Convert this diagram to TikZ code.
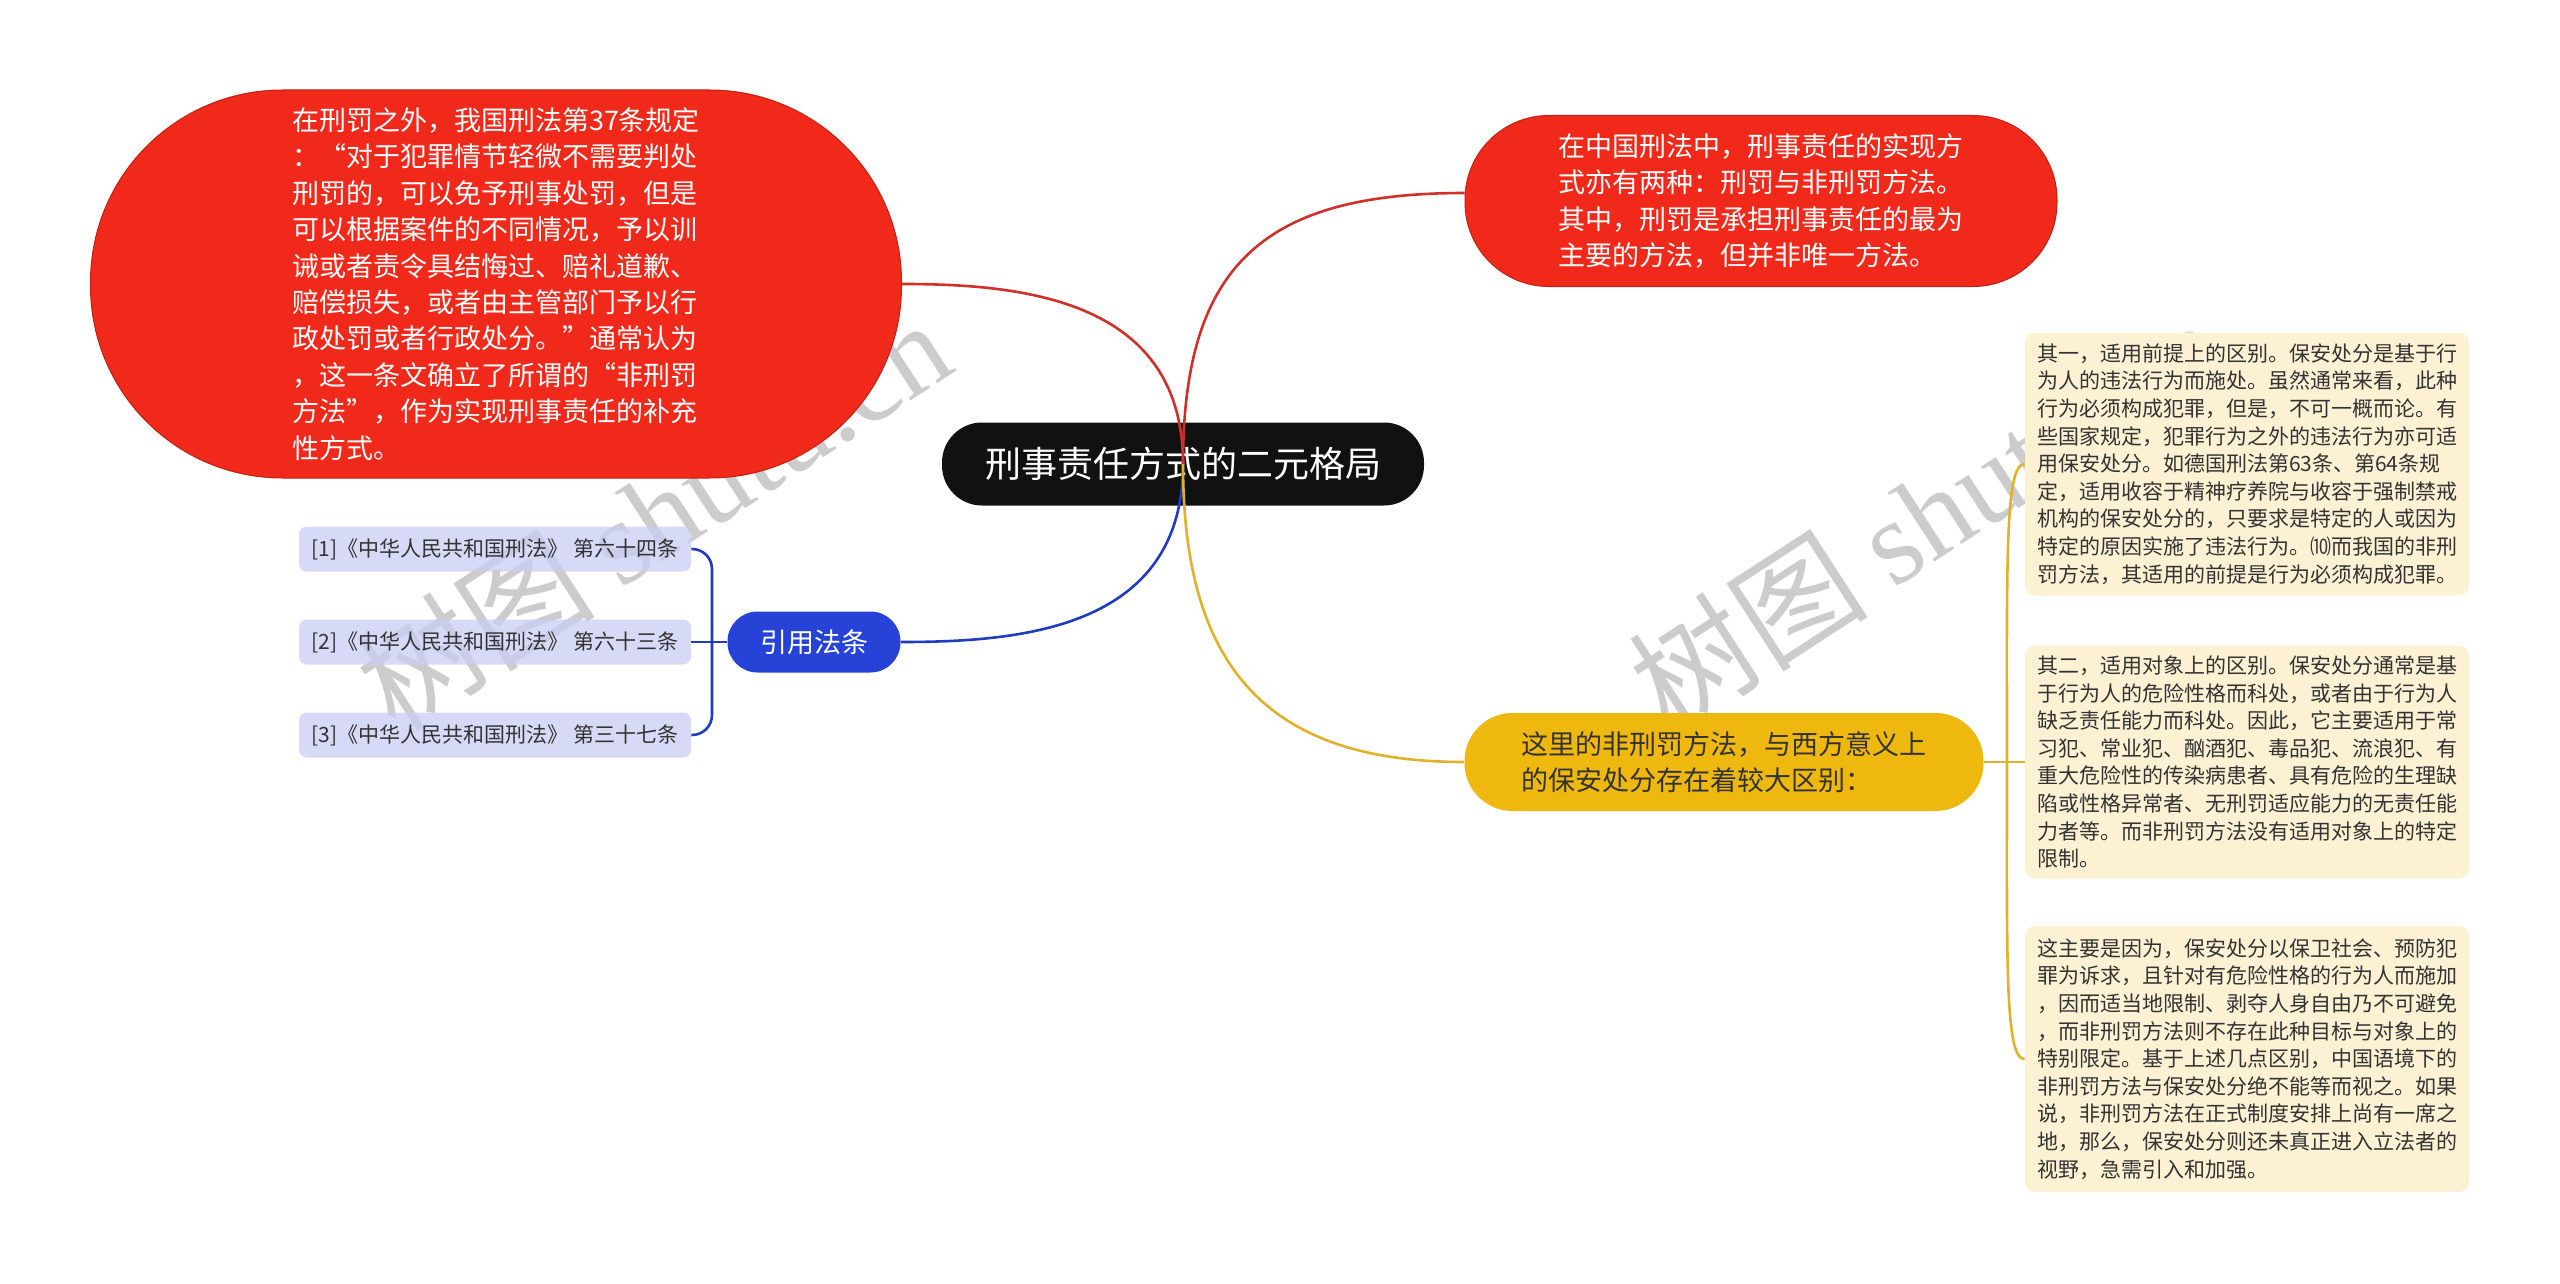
\documentclass[tikz,border=0pt]{standalone}
\usepackage{fontspec}
\setmainfont{Noto Sans CJK SC}
\newfontfamily\wmfont{Liberation Serif}
\usepackage{tikz}

\definecolor{mapred}{HTML}{F0291B}
\definecolor{mapredline}{HTML}{D0302A}
\definecolor{mapblue}{HTML}{2742D6}
\definecolor{mapblueline}{HTML}{1F3CC0}
\definecolor{mapyellow}{HTML}{EEB80E}
\definecolor{mapyellowline}{HTML}{E2B12C}
\definecolor{lavender}{HTML}{CACEF3}
\definecolor{cream}{HTML}{FCF1D3}
\definecolor{rootblack}{HTML}{111111}
\definecolor{inktext}{HTML}{333333}

\begin{document}
\begin{tikzpicture}[x=0.5pt, y=-0.5pt,
    rootnode/.style={fill=rootblack, text=white, rounded corners=20pt, minimum width=241pt, minimum height=41.5pt, inner sep=0pt, font=\fontsize{18}{22}\selectfont},
    rednote/.style={fill=mapred, draw=mapred!80!black, line width=0.5pt, text=white, align=left, inner sep=0pt, font=\fontsize{13.5}{18.2}\selectfont},
    refhub/.style={fill=mapblue, text=white, rounded corners=15pt, minimum width=86.5pt, minimum height=30.5pt, inner sep=0pt, font=\fontsize{13.5}{16}\selectfont},
    refleaf/.style={fill=lavender, fill opacity=0.75, text opacity=1, text=inktext, rounded corners=4pt, minimum width=196pt, minimum height=22.5pt, inner sep=0pt, font=\fontsize{10.5}{13}\selectfont},
    ambernode/.style={fill=mapyellow, text=inktext, rounded corners=24pt, minimum width=259.5pt, minimum height=49pt, align=left, inner sep=0pt, font=\fontsize{13.5}{18.2}\selectfont},
    ambernote/.style={fill=cream, text=inktext, rounded corners=5pt, minimum width=222pt, align=left, inner sep=0pt, font=\fontsize{10.5}{13.8}\selectfont},
    redlink/.style={draw=mapredline, line width=1.3pt},
    bluelink/.style={draw=mapblueline, line width=1.3pt},
    amberlink/.style={draw=mapyellowline, line width=1.3pt},
    watermark/.style={text=black!20, rotate=33, font=\fontsize{60}{60}\selectfont}
]
    % canvas
    \fill[white] (0,0) rectangle (2560,1284);
    \useasboundingbox (0,0) rectangle (2560,1284);

    % watermarks
    \node[watermark] (wm1) at (653,514) {树图 {\wmfont shutu.cn}};
    \node[watermark] (wm2) at (1926,514) {树图 {\wmfont shutu.cn}};

    % root
    \node[rootnode] (root) at (1183,464) {刑事责任方式的二元格局};

    % left red note
    \node[rednote, rounded corners=96pt, minimum width=405.5pt, minimum height=194pt] (penalty) at (496,284)
        {在刑罚之外，我国刑法第37条规定\\：“对于犯罪情节轻微不需要判处\\刑罚的，可以免予刑事处罚，但是\\可以根据案件的不同情况，予以训\\诫或者责令具结悔过、赔礼道歉、\\赔偿损失，或者由主管部门予以行\\政处罚或者行政处分。”通常认为\\，这一条文确立了所谓的“非刑罚\\方法”，作为实现刑事责任的补充\\性方式。};

    % top right red note
    \node[rednote, rounded corners=42pt, minimum width=296pt, minimum height=85.5pt] (dual) at (1761,201)
        {在中国刑法中，刑事责任的实现方\\式亦有两种：刑罚与非刑罚方法。\\其中，刑罚是承担刑事责任的最为\\主要的方法，但并非唯一方法。};

    % law references
    \node[refhub] (lawref) at (814,642) {引用法条};
    \node[refleaf] (cite1) at (495,549) {[1]《中华人民共和国刑法》 第六十四条};
    \node[refleaf] (cite2) at (495,642) {[2]《中华人民共和国刑法》 第六十三条};
    \node[refleaf] (cite3) at (495,735) {[3]《中华人民共和国刑法》 第三十七条};
    \coordinate (bj) at (712,642);

    % yellow branch
    \node[ambernode] (diff) at (1724,762) {这里的非刑罚方法，与西方意义上\\的保安处分存在着较大区别：};
    \node[ambernote, minimum height=131.5pt] (note1) at (2247,464)
        {其一，适用前提上的区别。保安处分是基于行\\为人的违法行为而施处。虽然通常来看，此种\\行为必须构成犯罪，但是，不可一概而论。有\\些国家规定，犯罪行为之外的违法行为亦可适\\用保安处分。如德国刑法第63条、第64条规\\定，适用收容于精神疗养院与收容于强制禁戒\\机构的保安处分的，只要求是特定的人或因为\\特定的原因实施了违法行为。⑽而我国的非刑\\罚方法，其适用的前提是行为必须构成犯罪。};
    \node[ambernote, minimum height=116.5pt] (note2) at (2247,762)
        {其二，适用对象上的区别。保安处分通常是基\\于行为人的危险性格而科处，或者由于行为人\\缺乏责任能力而科处。因此，它主要适用于常\\习犯、常业犯、酗酒犯、毒品犯、流浪犯、有\\重大危险性的传染病患者、具有危险的生理缺\\陷或性格异常者、无刑罚适应能力的无责任能\\力者等。而非刑罚方法没有适用对象上的特定\\限制。};
    \node[ambernote, minimum height=133pt] (note3) at (2247,1059)
        {这主要是因为，保安处分以保卫社会、预防犯\\罪为诉求，且针对有危险性格的行为人而施加\\，因而适当地限制、剥夺人身自由乃不可避免\\，而非刑罚方法则不存在此种目标与对象上的\\特别限定。基于上述几点区别，中国语境下的\\非刑罚方法与保安处分绝不能等而视之。如果\\说，非刑罚方法在正式制度安排上尚有一席之\\地，那么，保安处分则还未真正进入立法者的\\视野，急需引入和加强。};
    \coordinate (yj) at (2007,762);

    % main links
    \draw[redlink] (penalty.east) .. controls +(120,0) and +(0,-165) .. (root.center);
    \draw[redlink] (root.center) .. controls +(0,-200) and +(-200,0) .. ([yshift=4pt]dual.west);
    \draw[bluelink] (lawref.east) .. controls +(120,0) and +(0,165) .. (root.center);
    \draw[amberlink] (root.center) .. controls +(0,200) and +(-200,0) .. (diff.west);

    % blue bracket
    \draw[bluelink] (lawref.west) -- (cite2.east);
    \draw[bluelink, rounded corners=10pt] (cite1.east) -| (bj) |- (cite3.east);

    % yellow bracket
    \draw[amberlink] (diff.east) -- (note2.west);
    \draw[amberlink] (yj) .. controls +(0,-200) and +(-20,0) .. (note1.west);
    \draw[amberlink] (yj) .. controls +(0,200) and +(-20,0) .. (note3.west);
\end{tikzpicture}
\end{document}
